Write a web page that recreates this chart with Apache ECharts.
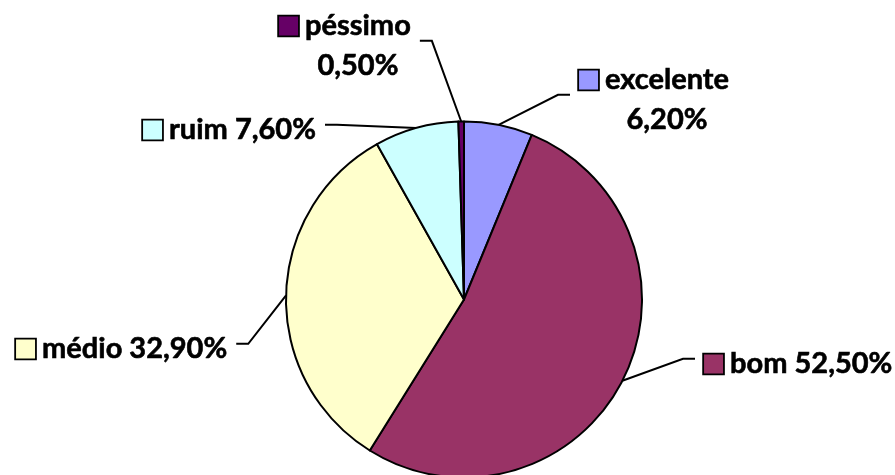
<!DOCTYPE html>
<html>
<head>
<meta charset="utf-8">
<script src="https://cdn.jsdelivr.net/npm/echarts@6/dist/echarts.min.js"></script>
<style>
  html, body { margin: 0; padding: 0; background: #fff; }
  #chart { width: 895px; height: 475px; }
</style>
</head>
<body>
<div id="chart"></div>
<script>
// Avaliação: share of answers per rating
const categories = ['excelente', 'bom', 'médio', 'ruim', 'péssimo'];
const values = [6.2, 52.5, 32.9, 7.6, 0.5];
const colors = ['#9999FF', '#993366', '#FFFFCC', '#CCFFFF', '#660066'];
// labels drawn on two lines (name above value)
const twoLine = [true, false, false, false, true];

// label block placement: top-left corner and the side the leader line leaves from
const labelPlacement = [
  { x: 578, y: 60, side: 'left' },
  { x: 703, y: 344, side: 'left' },
  { x: 15, y: 329, side: 'right' },
  { x: 142, y: 110, side: 'right' },
  { x: 278, y: 6, side: 'right' }
];
const KEY = 19;
const KEY_GAP = 7;
const LINE_GAP = 8;
const LINE_ARM = 12;

function fmtPct(v) {
  return v.toFixed(2).replace('.', ',') + '%';
}

const rich = {
  g: { width: KEY_GAP },
  s: { width: KEY + KEY_GAP },
  t: {
    fontFamily: 'Lato', fontWeight: 'bold', fontSize: 29,
    lineHeight: 40, color: '#000', verticalAlign: 'middle',
    textBorderColor: '#000', textBorderWidth: 0.6
  }
};
colors.forEach(function (c, i) {
  rich['k' + i] = {
    width: KEY, height: KEY, backgroundColor: c,
    borderColor: '#000', borderWidth: 1.8, verticalAlign: 'middle'
  };
});

const chart = echarts.init(document.getElementById('chart'), null, { renderer: 'canvas' });

chart.setOption({
  backgroundColor: '#ffffff',
  animation: false,
  series: [{
    type: 'pie',
    center: [464, 299.5],
    radius: 178,
    startAngle: 90,
    clockwise: true,
    avoidLabelOverlap: false,
    data: categories.map(function (name, i) {
      return { name: name, value: values[i], itemStyle: { color: colors[i] } };
    }),
    itemStyle: { borderColor: '#000', borderWidth: 2 },
    emphasis: { disabled: true },
    label: {
      show: true,
      position: 'outside',
      align: 'center',
      rich: rich,
      formatter: function (p) {
        const i = p.dataIndex;
        const pct = fmtPct(values[i]);
        if (twoLine[i]) {
          return '{k' + i + '|}{g|}{t|' + categories[i] + '}\n{s|}{t|' + pct + '}';
        }
        return '{k' + i + '|}{g|}{t|' + categories[i] + ' ' + pct + '}';
      }
    },
    labelLine: {
      show: true,
      length: 10,
      length2: 10,
      lineStyle: { color: '#000', width: 2 }
    },
    labelLayout: function (p) {
      const cfg = labelPlacement[p.dataIndex];
      const w = p.labelRect.width;
      const h = p.labelRect.height;
      const midY = cfg.y + h / 2;
      const anchor = p.labelLinePoints[0];
      let end, elbow;
      if (cfg.side === 'right') {
        end = [cfg.x + w + LINE_GAP, midY];
        elbow = [end[0] + LINE_ARM, midY];
      } else {
        end = [cfg.x - LINE_GAP, midY];
        elbow = [end[0] - LINE_ARM, midY];
      }
      return {
        x: cfg.x + w / 2,
        y: cfg.y,
        align: 'center',
        verticalAlign: 'top',
        labelLinePoints: [anchor, elbow, end]
      };
    }
  }]
});
</script>
</body>
</html>
